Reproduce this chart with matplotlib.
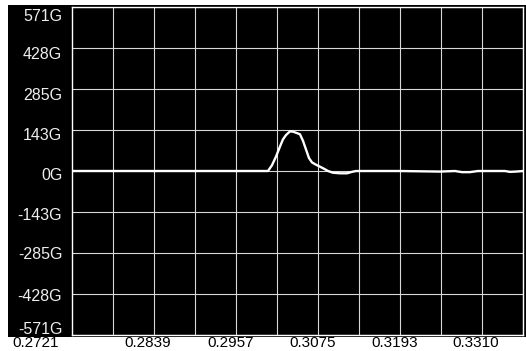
import numpy as np
import matplotlib
matplotlib.use("Agg")
import matplotlib.pyplot as plt
from matplotlib.patches import Rectangle
from matplotlib.transforms import ScaledTranslation

# signal trace (time in s, level in G)
t = [0.2721, 0.30026, 0.30083, 0.30141, 0.30198, 0.30241, 0.30284, 0.30342,
     0.30385, 0.30442, 0.30485, 0.30529, 0.30572, 0.30615, 0.30658, 0.30715,
     0.30773, 0.30830, 0.30888, 0.30960, 0.31060, 0.31161, 0.31232, 0.31290,
     0.31922, 0.32497, 0.32712, 0.32813, 0.32928, 0.33043, 0.33430, 0.33502,
     0.33588, 0.3369]
g = [0, 0, 20, 50, 85, 110, 125, 138,
     137, 132, 128, 105, 75, 45, 30, 22,
     15, 8, 0, -6, -8, -8, -3, 0,
     0, -2, 0, -4, -4, 0, 0, -3,
     -2, 0]

x_labels = ['0.2721', '0.2839', '0.2957', '0.3075', '0.3193', '0.3310']
x_ticks = [0.2721, 0.2839, 0.2957, 0.3075, 0.3193, 0.3310]
y_ticks = [-571, -428, -285, -143, 0, 143, 285, 428, 571]
y_labels = ['%dG' % v for v in y_ticks]

x_min, x_max = 0.2721, 0.3369

fig = plt.figure(figsize=(5.26, 3.51), dpi=100)
fig.patches.append(Rectangle((8 / 526, 1 - 337 / 351), (526 - 8) / 526, (337 - 5) / 351,
                             transform=fig.transFigure, facecolor='black',
                             edgecolor='none', zorder=-10))
ax = fig.add_axes([72 / 526, 1 - 335 / 351, (523 - 72) / 526, (335 - 7) / 351])
ax.set_facecolor('black')

ax.plot(t, g, color='white', lw=1.7, zorder=3)

ax.set_xlim(x_min, x_max)
ax.set_ylim(-571, 571)
# 11 scope divisions across, labels on every other one
ax.set_xticks(np.linspace(x_min, x_max, 12), minor=True)
ax.set_xticks(x_ticks)
ax.set_xticklabels(x_labels)
ax.set_xlim(x_min, x_max)
ax.set_yticks(y_ticks)
ax.set_yticklabels(y_labels)

ax.grid(which='minor', axis='x', color='#d8d8d8', lw=0.8)
ax.grid(which='major', axis='y', color='#d8d8d8', lw=0.8)
ax.tick_params(which='both', length=0)
ax.tick_params(axis='x', pad=1, labelsize=11, labelcolor='black')
ax.tick_params(axis='y', pad=7, labelsize=11.5, labelcolor='#eeeeee')
for lbl in ax.get_xticklabels() + ax.get_yticklabels():
    lbl.set_fontfamily('Liberation Sans')

px = fig.dpi_scale_trans
xl = ax.get_xticklabels()
for lbl in xl[1:]:
    lbl.set_transform(lbl.get_transform() + ScaledTranslation(-6 / 100, 0, px))
xl[0].set_transform(xl[0].get_transform() + ScaledTranslation(-36 / 100, 0, px))

# labels sit a little below their gridlines, the end ones pulled inside
y_shift = [-7, 1, 0, 2, 3, 4, 5, 5, 8]
for lbl, d in zip(ax.get_yticklabels(), y_shift):
    lbl.set_transform(lbl.get_transform() + ScaledTranslation(0, -d / 100, px))

for s in ax.spines.values():
    s.set_color('white')
    s.set_linewidth(1)

fig.savefig('out.png', dpi=100, facecolor='white')
